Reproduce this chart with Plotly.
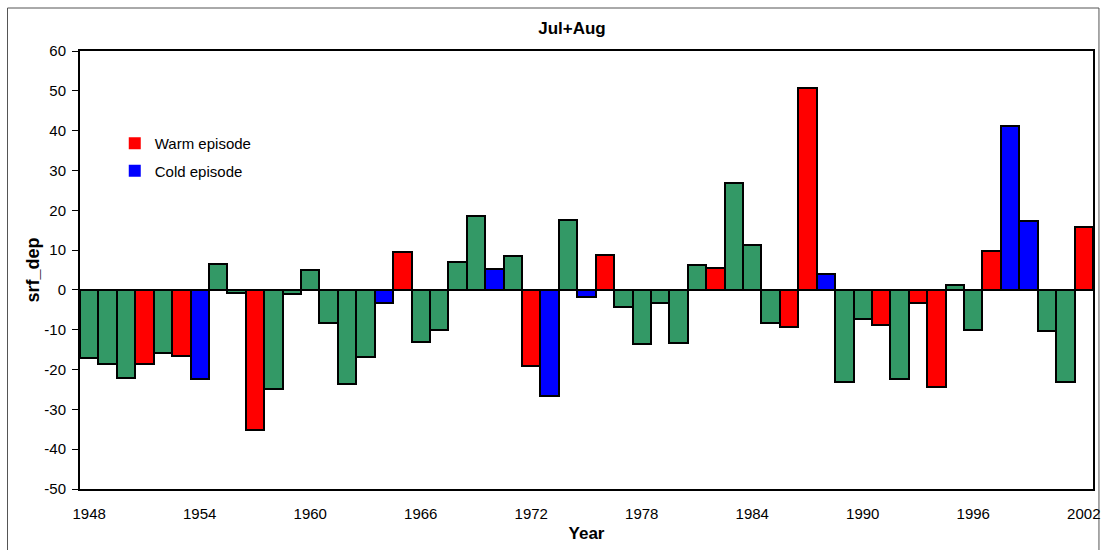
import plotly.graph_objects as go

years = list(range(1948, 2003))
values = [
    -17.0, -18.5, -22.0, -18.6, -15.8, -16.6, -22.4, 6.5, -0.8, -35.3,
    -24.9, -1.0, 5.0, -8.4, -23.6, -16.9, -3.4, 9.5, -13.0, -10.0,
    7.0, 18.6, 5.2, 8.5, -19.1, -26.6, 17.6, -1.7, 8.8, -4.4,
    -13.6, -3.2, -13.4, 6.3, 5.5, 26.8, 11.4, -8.2, -9.2, 50.75,
    3.9, -23.1, -7.4, -8.8, -22.4, -3.2, -24.5, 1.3, -10.0, 9.7,
    41.2, 17.4, -10.2, -23.1, 15.9,
]
# W = warm episode, C = cold episode, N = neutral
episodes = list(
    "NNNWNWCNNWNNNNNNC"
    "WNNNNCNWCNCWNNNN"
    "NWNNNWWCNNWNWWNNWCCNNW"
)
tick_years = list(range(1948, 2003, 6))
y_ticks = list(range(-50, 61, 10))
y_tick_labels = [str(v) for v in y_ticks]

colors = {"W": "#FF0000", "C": "#0000FF", "N": "#339966"}
FONT = "Arial, Liberation Sans, sans-serif"

fig = go.Figure()
for ep in ["N", "W", "C"]:
    xs = [y for y, e in zip(years, episodes) if e == ep]
    ys = [v for v, e in zip(values, episodes) if e == ep]
    fig.add_trace(go.Bar(
        x=xs, y=ys, width=1.0,
        marker=dict(color=colors[ep], line=dict(color="black", width=2)),
        showlegend=False,
    ))

fig.add_trace(go.Scatter(
    x=[None], y=[None], mode="markers", name="Warm episode", legendgroup="w",
    marker=dict(symbol="square", size=13, color=colors["W"]),
))
fig.add_trace(go.Scatter(
    x=[None], y=[None], mode="markers", name="Cold episode", legendgroup="c",
    marker=dict(symbol="square", size=13, color=colors["C"]),
))

fig.update_layout(
    width=1109, height=550,
    margin=dict(l=80, r=9, t=51, b=61),
    paper_bgcolor="white", plot_bgcolor="white",
    barmode="overlay", bargap=0,
    font=dict(family=FONT, size=15, color="black"),
    title=dict(text="<b>Jul+Aug</b>", x=572 / 1109, xanchor="center",
               y=1 - 28 / 550, yanchor="middle",
               font=dict(family=FONT, size=17, color="black")),
    legend=dict(x=(115 - 80) / 1020, y=(489 - 127) / 438, xanchor="left", yanchor="top",
                bgcolor="rgba(0,0,0,0)", font=dict(size=15), tracegroupgap=5,
                itemsizing="constant"),
    xaxis=dict(
        range=[1947.5, 2002.5], tickmode="array", tickvals=tick_years,
        showline=True, linecolor="black", linewidth=2, mirror=True,
        showgrid=False, zeroline=False, ticks="", ticklabelstandoff=10,
        tickfont=dict(size=15),
        title=dict(text="<b>Year</b>", font=dict(size=17), standoff=6),
    ),
    yaxis=dict(
        range=[-50, 60], tickmode="array", tickvals=y_ticks, ticktext=y_tick_labels,
        showline=True, linecolor="black", linewidth=2, mirror=True,
        showgrid=False, zeroline=True, zerolinecolor="black", zerolinewidth=2,
        ticks="outside", ticklen=6, tickcolor="black", tickwidth=1,
        tickfont=dict(size=15), ticklabelstandoff=3,
        title=dict(text="<b>srf_dep</b>", font=dict(size=18), standoff=0),
    ),
    shapes=[dict(
        type="rect", xref="paper", yref="paper",
        x0=(7 - 80) / 1020, x1=(1106 - 80) / 1020,
        y0=(489 - 600) / 438, y1=(489 - 8) / 438,
        line=dict(color="#555555", width=1), layer="below",
    )],
)

fig.write_html("out.html", config={"displayModeBar": False},
               post_script="document.body.style.margin='0';")
